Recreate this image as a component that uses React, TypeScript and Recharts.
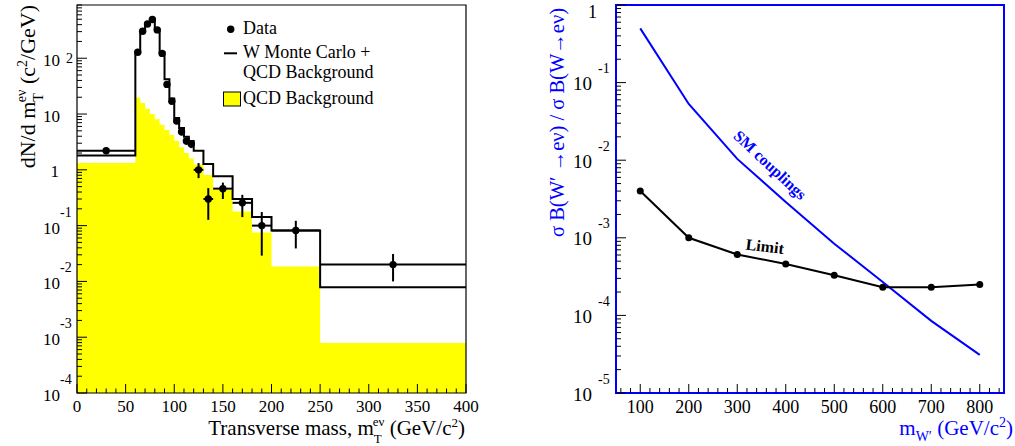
import React from 'react';
import {
  ComposedChart,
  Area,
  Line,
  Scatter,
  ErrorBar,
  XAxis,
  YAxis,
  ReferenceArea,
  ReferenceDot,
  Legend,
} from 'recharts';

const SERIF = '"Liberation Serif", "Times New Roman", serif';
const BLUE = '#0000ff';
const YELLOW = '#ffff00';

// ---- transverse mass spectrum (GeV/c^2) ----
const binEdges = [0, 60, 65, 70, 75, 80, 85, 90, 95, 100, 105, 110, 115, 120, 130, 140, 160, 180, 200, 250, 400];
// W Monte Carlo + QCD background, one value per bin
const mcPlusQcd = [1.8, 128, 300, 420, 500, 325, 128, 42, 19, 8.5, 5.6, 3.9, 3.3, 2.2, 1.27, 0.77, 0.3, 0.143, 0.082, 0.0079];
// QCD background alone
const qcdOnly = [1.32, 19.8, 15.7, 12.4, 10, 8.1, 6.4, 5.2, 4.2, 3.3, 2.55, 2.0, 1.6, 1.25, 0.81, 0.44, 0.18, 0.075, 0.0186, 0.00079];

// measured points with bin half-widths and error bounds
const pointMass = [30, 62.5, 67.5, 72.5, 77.5, 82.5, 87.5, 92.5, 97.5, 102.5, 107.5, 112.5, 117.5, 125, 135, 150, 170, 190, 225, 325];
const pointHalfWidth = [30, 2.5, 2.5, 2.5, 2.5, 2.5, 2.5, 2.5, 2.5, 2.5, 2.5, 2.5, 2.5, 5, 5, 10, 10, 10, 25, 75];
const pointValue = [2.2, 128, 305, 412, 495, 322, 122, 34, 17, 7.5, 4.8, 3.3, 2.9, 1.0, 0.3, 0.46, 0.256, 0.1, 0.082, 0.02];
const pointLow = [1.95, 122, 295, 400, 482, 312, 116, 31, 15.5, 6.6, 4.1, 2.8, 2.45, 0.71, 0.127, 0.3, 0.142, 0.029, 0.039, 0.01];
const pointHigh = [2.45, 134, 315, 424, 508, 332, 128, 37, 18.5, 8.4, 5.5, 3.8, 3.35, 1.32, 0.47, 0.59, 0.356, 0.175, 0.122, 0.031];

// ---- W' cross section ratio vs mass ----
const wPrimeMass = [100, 200, 300, 400, 500, 600, 700, 800];
const smCouplings = [0.5, 0.053, 0.0104, 0.0029, 0.00084, 0.00027, 0.000085, 0.000031];
const limitValues = [0.004, 0.001, 0.00061, 0.00046, 0.00033, 0.00023, 0.00023, 0.00025];

// histogram drawn as stepAfter: last edge repeats the final bin
const stepRows = (vals: number[]) =>
  binEdges.map((x, i) => ({ x, y: vals[Math.min(i, vals.length - 1)] }));

const mcRows = stepRows(mcPlusQcd);
const qcdRows = stepRows(qcdOnly);
const pointRows = pointMass.map((x, i) => ({
  x,
  y: pointValue[i],
  xErr: pointHalfWidth[i],
  yErr: [pointValue[i] - pointLow[i], pointHigh[i] - pointValue[i]],
}));
const smRows = wPrimeMass.map((x, i) => ({ x, y: smCouplings[i] }));
const limitRows = wPrimeMass.map((x, i) => ({ x, y: limitValues[i] }));

const logTicks = (min: number, max: number) => {
  const out: number[] = [];
  for (let e = Math.floor(Math.log10(min)); e <= Math.ceil(Math.log10(max)); e++) {
    for (let m = 1; m < 10; m++) {
      const v = m * Math.pow(10, e);
      if (v >= min * 0.999 && v <= max * 1.001) out.push(v);
    }
  }
  return out;
};
const linTicks = (from: number, to: number, step: number) =>
  Array.from({ length: Math.round((to - from) / step) + 1 }, (_, i) => from + i * step);

const isDecade = (v: number) => Math.abs(Math.log10(v) - Math.round(Math.log10(v))) < 1e-6;

// ---- tick renderers: marks point into the frame, labels ROOT-style ----
const LeftYTick = (props: any) => {
  const { x, y, payload } = props;
  const v = payload.value;
  const major = isDecade(v);
  const e = Math.round(Math.log10(v));
  return (
    <g>
      <line x1={x} x2={x + (major ? 10 : 5)} y1={y} y2={y} stroke="#000" />
      {major && e === 0 && (
        <text x={x - 18} y={y + 7} textAnchor="end" fontSize={17} fontFamily={SERIF}>1</text>
      )}
      {major && e !== 0 && (
        <text x={x - 17} y={y + 8} textAnchor="end" fontSize={17} fontFamily={SERIF}>10</text>
      )}
      {major && e !== 0 && e !== 1 && (
        <text x={e > 0 ? x - 11 : x - 17} y={e > 0 ? y + 5 : y - 9} fontSize={14} fontFamily={SERIF}>
          {e > 0 ? String(e) : '-' + String(-e)}
        </text>
      )}
    </g>
  );
};

const LeftXTick = (props: any) => {
  const { x, y, payload } = props;
  const v = payload.value;
  const major = v % 50 === 0;
  return (
    <g>
      <line x1={x} x2={x} y1={y} y2={y - (major ? 9 : 4.5)} stroke="#000" />
      {major && (
        <text x={x} y={y + 19} textAnchor="middle" fontSize={17} fontFamily={SERIF}>{v}</text>
      )}
    </g>
  );
};

const RightYTick = (props: any) => {
  const { x, y, payload } = props;
  const v = payload.value;
  const major = isDecade(v);
  const e = Math.round(Math.log10(v));
  return (
    <g>
      <line x1={x} x2={x + (major ? 10 : 5)} y1={y} y2={y} stroke="#000" />
      {major && e === 0 && (
        <text x={x - 19} y={y + 13} textAnchor="end" fontSize={18} fontFamily={SERIF}>1</text>
      )}
      {major && e !== 0 && (
        <>
          <text x={x - 24} y={y + 7.5} textAnchor="end" fontSize={19} fontFamily={SERIF}>10</text>
          <text x={x - 18} y={y - 9.5} fontSize={14} fontFamily={SERIF}>{'-' + String(-e)}</text>
        </>
      )}
    </g>
  );
};

const RightXTick = (props: any) => {
  const { x, y, payload } = props;
  const v = payload.value;
  const major = v % 100 === 0;
  return (
    <g>
      <line x1={x} x2={x} y1={y} y2={y - (major ? 9 : 5)} stroke="#000" />
      {major && (
        <text x={x} y={y + 20} textAnchor="middle" fontSize={18} fontFamily={SERIF}>{v}</text>
      )}
    </g>
  );
};

// ---- axis titles ----
const leftXTitle = () => (
  <text x={465} y={435} textAnchor="end" fontSize={21} fontFamily={SERIF} fill="#000">
    Transverse mass, m
    <tspan fontSize={13} dy={8}>T</tspan>
    <tspan fontSize={13} dx={-8} dy={-17}>eν</tspan>
    <tspan dy={9}>{' (GeV/c'}</tspan>
    <tspan fontSize={13} dy={-8}>2</tspan>
    <tspan dy={8}>)</tspan>
  </text>
);

const leftYTitle = () => (
  <text transform="rotate(-90)" x={-5} y={35} textAnchor="end" fontSize={22} fontFamily={SERIF} fill="#000">
    dN/d m
    <tspan fontSize={14} dy={8}>T</tspan>
    <tspan fontSize={14} dx={-8} dy={-17}>eν</tspan>
    <tspan dy={9}>{' (c'}</tspan>
    <tspan fontSize={14} dy={-8}>2</tspan>
    <tspan dy={8}>/GeV)</tspan>
  </text>
);

const rightXTitle = () => (
  <text x={483} y={435} textAnchor="end" fontSize={21} fontFamily={SERIF} fill={BLUE}>
    m
    <tspan fontSize={14} dy={6}>W′</tspan>
    <tspan dy={-6}>{' (GeV/c'}</tspan>
    <tspan fontSize={14} dy={-8}>2</tspan>
    <tspan dy={8}>)</tspan>
  </text>
);

const rightYTitle = () => (
  <text transform="rotate(-90)" x={-8} y={34} textAnchor="end" fontSize={20.5} fontFamily={SERIF} fill={BLUE}>
    σ B(W′ →eν) / σ B(W→eν)
  </text>
);

const curveNote = (text: string, angle: number, color: string, size: number) => (props: any) => {
  const vb = props.viewBox || { x: 0, y: 0, width: 0, height: 0 };
  const cx = vb.x + (vb.width || 0) / 2;
  const cy = vb.y + (vb.height || 0) / 2;
  return (
    <text
      x={cx}
      y={cy + size * 0.35}
      textAnchor="middle"
      transform={`rotate(${angle} ${cx} ${cy})`}
      fontSize={size}
      fontWeight="bold"
      fontFamily={SERIF}
      fill={color}
    >
      {text}
    </text>
  );
};

const renderLegend = () => (
  <svg width={480} height={120} style={{ display: 'block' }}>
    <circle cx={230.7} cy={29.3} r={3.7} fill="#000" />
    <text x={243} y={34.3} fontSize={18} fontFamily={SERIF}>Data</text>
    <line x1={224} x2={237} y1={53.3} y2={53.3} stroke="#000" strokeWidth={2} />
    <text x={243} y={58.3} fontSize={18} fontFamily={SERIF}>W Monte Carlo +</text>
    <text x={243} y={77.5} fontSize={18} fontFamily={SERIF}>QCD Background</text>
    <rect x={223.5} y={92} width={17} height={14} fill={YELLOW} stroke="#000" />
    <text x={243} y={104} fontSize={18} fontFamily={SERIF}>QCD Background</text>
  </svg>
);

const SpectrumChart = () => (
  <ComposedChart width={480} height={446} margin={{ top: 5, right: 14, bottom: 0, left: 0 }} style={{ fontFamily: SERIF }}>
    <Area
      data={qcdRows}
      dataKey="y"
      type="stepAfter"
      fill={YELLOW}
      fillOpacity={1}
      stroke="none"
      baseValue="dataMin"
      isAnimationActive={false}
    />
    <Line
      data={mcRows}
      dataKey="y"
      type="stepAfter"
      stroke="#000"
      strokeWidth={2}
      dot={false}
      isAnimationActive={false}
    />
    <XAxis
      type="number"
      dataKey="x"
      domain={[0, 400]}
      ticks={linTicks(0, 400, 10)}
      interval={0}
      allowDataOverflow
      tickSize={0}
      tickMargin={0}
      tickLine={false}
      axisLine={false}
      tick={(p: any) => <LeftXTick {...p} />}
      height={53}
      label={leftXTitle}
    />
    <YAxis
      type="number"
      dataKey="y"
      scale="log"
      domain={[1e-4, 900]}
      ticks={logTicks(1e-4, 900)}
      interval={0}
      allowDataOverflow
      tickSize={0}
      tickMargin={0}
      tickLine={false}
      axisLine={false}
      tick={(p: any) => <LeftYTick {...p} />}
      width={77}
      label={leftYTitle}
    />
    <ReferenceArea x1={0} x2={400} y1={1e-4} y2={900} fill="none" stroke="#000" strokeWidth={1.2} ifOverflow="visible" />
    <Scatter
      data={pointRows}
      fill="#000"
      shape={(p: any) => <circle cx={p.cx} cy={p.cy} r={3.7} fill="#000" />}
      isAnimationActive={false}
    >
      <ErrorBar dataKey="yErr" direction="y" width={0} stroke="#000" strokeWidth={2} />
      <ErrorBar dataKey="xErr" direction="x" width={0} stroke="#000" strokeWidth={2} />
    </Scatter>
    <Legend
      content={renderLegend}
      layout="vertical"
      align="center"
      verticalAlign="middle"
      wrapperStyle={{ left: 0, top: 0, width: 480, height: 120 }}
    />
  </ComposedChart>
);

const LimitChart = () => (
  <ComposedChart width={485} height={446} margin={{ top: 5, right: 11, bottom: 0, left: 0 }} style={{ fontFamily: SERIF }}>
    <XAxis
      type="number"
      dataKey="x"
      domain={[50, 850]}
      ticks={linTicks(60, 840, 20)}
      interval={0}
      allowDataOverflow
      tickSize={0}
      tickMargin={0}
      tickLine={false}
      axisLine={false}
      tick={(p: any) => <RightXTick {...p} />}
      height={53}
      label={rightXTitle}
    />
    <YAxis
      type="number"
      dataKey="y"
      scale="log"
      domain={[1e-5, 1]}
      ticks={logTicks(1e-5, 1)}
      interval={0}
      allowDataOverflow
      tickSize={0}
      tickMargin={0}
      tickLine={false}
      axisLine={false}
      tick={(p: any) => <RightYTick {...p} />}
      width={86}
      label={rightYTitle}
    />
    <ReferenceArea x1={50} x2={850} y1={1e-5} y2={1} fill="none" stroke={BLUE} strokeWidth={2} ifOverflow="visible" />
    <Line
      data={smRows}
      dataKey="y"
      type="linear"
      stroke={BLUE}
      strokeWidth={2}
      dot={false}
      isAnimationActive={false}
    />
    <Line
      data={limitRows}
      dataKey="y"
      type="linear"
      stroke="#000"
      strokeWidth={2}
      dot={{ r: 3.5, fill: '#000', stroke: '#000', strokeWidth: 0 }}
      isAnimationActive={false}
    />
    <ReferenceDot x={368} y={0.0087} r={0} fill="none" stroke="none" label={curveNote('SM couplings', 43, BLUE, 16)} />
    <ReferenceDot x={357} y={0.00078} r={0} fill="none" stroke="none" label={curveNote('Limit', 7, '#000', 16)} />
  </ComposedChart>
);

export default function App() {
  return (
    <div style={{ position: 'absolute', left: 0, top: 0, width: 1015, height: 446, background: '#fff', fontFamily: SERIF }}>
      <div style={{ position: 'absolute', left: 0, top: 0 }}>
        <SpectrumChart />
      </div>
      <div style={{ position: 'absolute', left: 530, top: 0 }}>
        <LimitChart />
      </div>
    </div>
  );
}
